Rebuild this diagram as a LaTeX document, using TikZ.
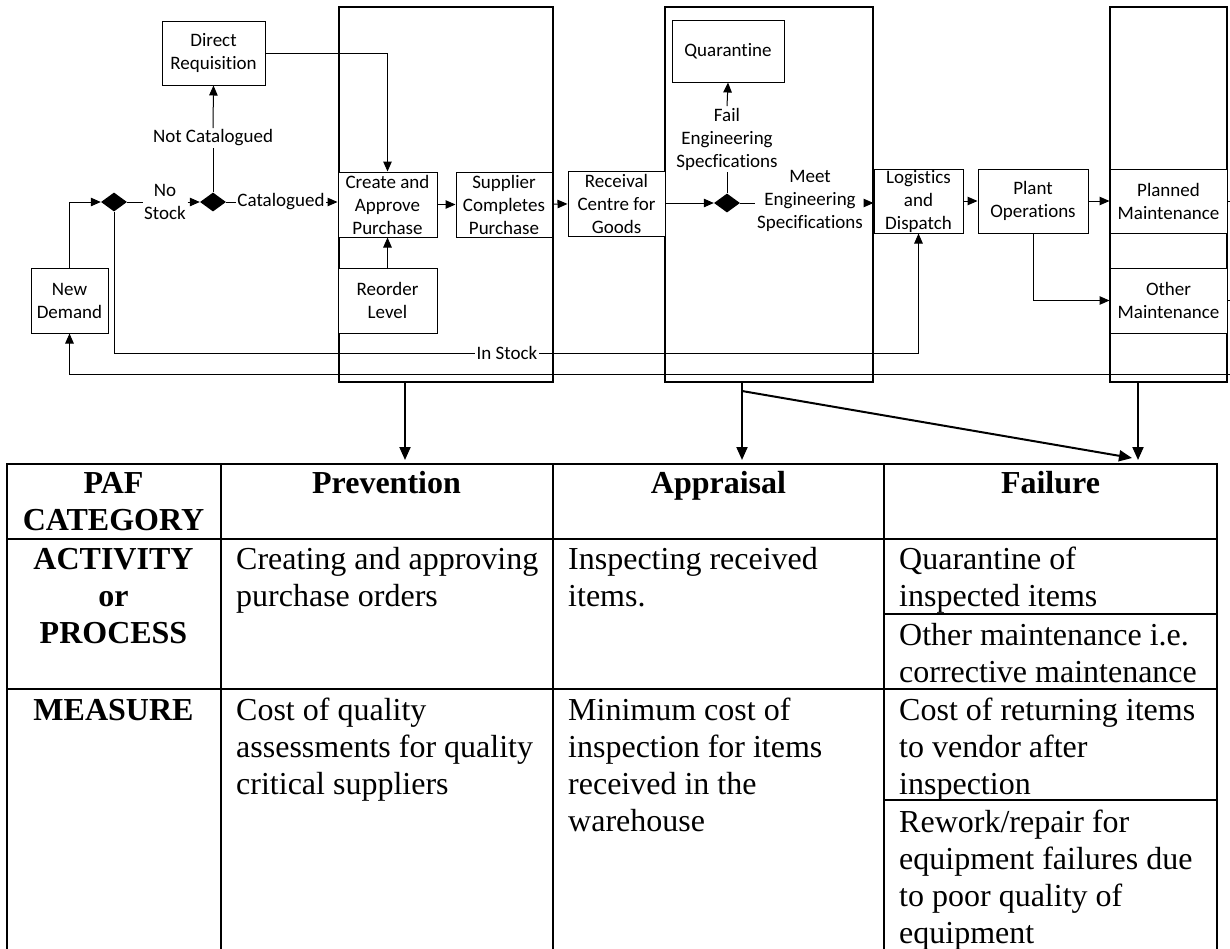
\documentclass[tikz,border=0pt]{standalone}
\usepackage{fontspec}
\setmainfont{Liberation Serif}
\newfontfamily\flowfont[Ligatures=NoCommon]{Carlito}
\usepackage{tikz}
\usetikzlibrary{shapes.geometric, arrows.meta}

\begin{document}
\begin{tikzpicture}[x=1pt, y=-1pt, inner sep=0pt,
    box/.style={draw, line width=1pt, fill=white, align=center, font=\flowfont\fontsize{19}{23}\selectfont},
    lbl/.style={fill=white, align=center, inner sep=1.5pt, font=\flowfont\fontsize{19}{23}\selectfont},
    dec/.style={diamond, fill=black, minimum width=26, minimum height=19},
    stage/.style={draw, line width=2.4pt},
    arr/.style={line width=1pt, -{Triangle[length=10pt, width=8.5pt]}},
    bigarr/.style={line width=2pt, -{Triangle[length=13pt, width=11pt]}},
    hd/.style={anchor=base, align=center, font=\bfseries\fontsize{32}{37}\selectfont},
    cell/.style={anchor=base west, align=left, font=\fontsize{32}{37}\selectfont}]
    \useasboundingbox (0,0) rectangle (1230,948);

    % stages
    \node[stage, minimum width=214, minimum height=375] (prev) at (446,194.5) {};
    \node[stage, minimum width=208, minimum height=375] (appr) at (769,194.5) {};
    \node[stage, minimum width=117, minimum height=375] (fail) at (1168.5,194.5) {};

    % flow
    \node[box, minimum width=103, minimum height=64] (dreq) at (213.5,53) {Direct\\Requisition};
    \node[box, minimum width=77, minimum height=65] (newd) at (69.5,300.5) {New\\Demand};
    \node[dec] (d1) at (114,202) {};
    \node[dec] (d2) at (213,202) {};
    \node[lbl] (nostock) at (165,202) {No\\Stock};
    \node[lbl] (notcat) at (213,138) {Not Catalogued};
    \node[lbl] (cat) at (281,202) {Catalogued};
    \node[box, minimum width=99, minimum height=65] (create) at (387.5,204.5) {Create and\\Approve\\Purchase};
    \node[box, minimum width=99, minimum height=65] (reorder) at (387.5,300.5) {Reorder\\Level};
    \node[box, minimum width=96, minimum height=65] (supp) at (504,204.5) {Supplier\\Completes\\Purchase};
    \node[box, minimum width=97, minimum height=65] (recv) at (616.5,203.5) {Receival\\Centre for\\Goods};
    \node[box, minimum width=112, minimum height=62] (quar) at (728,51) {Quarantine};
    \node[dec] (d3) at (727,203) {};
    \node[lbl] (failspec) at (727,139) {Fail\\Engineering\\Specfications};
    \node[lbl] (meet) at (810,201) {Meet\\Engineering\\Specifications};
    \node[box, minimum width=89, minimum height=64] (logi) at (918.5,201) {Logistics\\and\\Dispatch};
    \node[box, minimum width=110, minimum height=64] (plant) at (1033,201) {Plant\\Operations};
    \node[box, minimum width=117, minimum height=64] (plm) at (1168.5,201) {Planned\\Maintenance};
    \node[box, minimum width=117, minimum height=65] (othm) at (1168.5,300.5) {Other\\Maintenance};
    \node[lbl] (instock) at (507,353) {In Stock};
    \coordinate (ret) at (1230,374);

    \draw[arr] (newd.north) |- (d1.west);
    \draw (d1.east) -- (nostock.west);
    \draw[arr] (nostock.east) -- (d2.west);
    \draw (d2.north) -- (notcat.south);
    \draw[arr] (notcat.north) -- (dreq.south);
    \draw (d2.east) -- (cat.west);
    \draw[arr] (cat.east) -- (cat.east -| create.west);
    \draw[arr] (dreq.east) -| (create.north);
    \draw[arr] (reorder) -- (create);
    \draw[arr] (create) -- (supp);
    \draw[arr] (supp) -- (recv);
    \draw[arr] (recv.east |- d3) -- (d3.west);
    \draw (d3.north) -- (failspec.south);
    \draw[arr] (failspec.north) -- (quar.south);
    \draw (d3.east) -- (d3 -| meet.west);
    \draw[arr] (d3 -| meet.east) -- (d3 -| logi.west);
    \draw[arr] (logi) -- (plant);
    \draw[arr] (plant) -- (plm);
    \draw[arr] (plant.south) |- (othm.west);
    \draw (d1.south) |- (instock.west);
    \draw[arr] (instock.east) -| (logi.south);
    \draw[arr] (ret) -| (newd.south);
    \draw (plm.east) -- (plm.east -| ret);
    \draw (othm.east) -- (othm.east -| ret);

    % arrows down to the table
    \coordinate (tprev) at (405,460);
    \coordinate (tappr) at (742,460);
    \coordinate (tfail) at (1138,460);
    \coordinate (tbend) at (742,391);
    \coordinate (tdiag) at (1132,458);
    \draw[bigarr] (prev.south -| tprev) -- (tprev);
    \draw[bigarr] (appr.south -| tappr) -- (tappr);
    \draw[bigarr] (tbend) -- (tdiag);
    \draw[bigarr] (fail.south -| tfail) -- (tfail);

    % table (base = baseline of the last line)
    \draw[line width=2pt] (7,950) |- (1217,464) -- (1217,950);
    \foreach \x in {220.5, 553, 884} \draw[line width=2pt] (\x,464) -- (\x,950);
    \foreach \y in {539, 689} \draw[line width=2pt] (7,\y) -- (1217,\y);
    \foreach \y in {614, 800} \draw[line width=1.5pt] (884,\y) -- (1217,\y);

    \node[hd] (hcat) at (113.5,530) {PAF\\CATEGORY};
    \node[hd] (hprev) at (386.5,493) {Prevention};
    \node[hd] (happr) at (718.5,493) {Appraisal};
    \node[hd] (hfail) at (1050.5,493) {Failure};
    \node[hd] (ract) at (113.5,643) {ACTIVITY\\or\\PROCESS};
    \node[hd] (rmeas) at (113.5,720) {MEASURE};
    \node[cell] (cprev) at (236,606) {Creating and approving\\purchase orders};
    \node[cell] (cappr) at (568,606) {Inspecting received\\items.};
    \node[cell] (cfail) at (899,606) {Quarantine of\\inspected items};
    \node[cell] (cfail2) at (899,682) {Other maintenance i.e.\\corrective maintenance};
    \node[cell] (mprev) at (236,794) {Cost of quality\\assessments for quality\\critical suppliers};
    \node[cell] (mappr) at (568,831) {Minimum cost of\\inspection for items\\received in the\\warehouse};
    \node[cell] (mfail) at (899,794) {Cost of returning items\\to vendor after\\inspection};
    \node[cell] (mfail2) at (899,943) {Rework/repair for\\equipment failures due\\to poor quality of\\equipment};
\end{tikzpicture}
\end{document}
